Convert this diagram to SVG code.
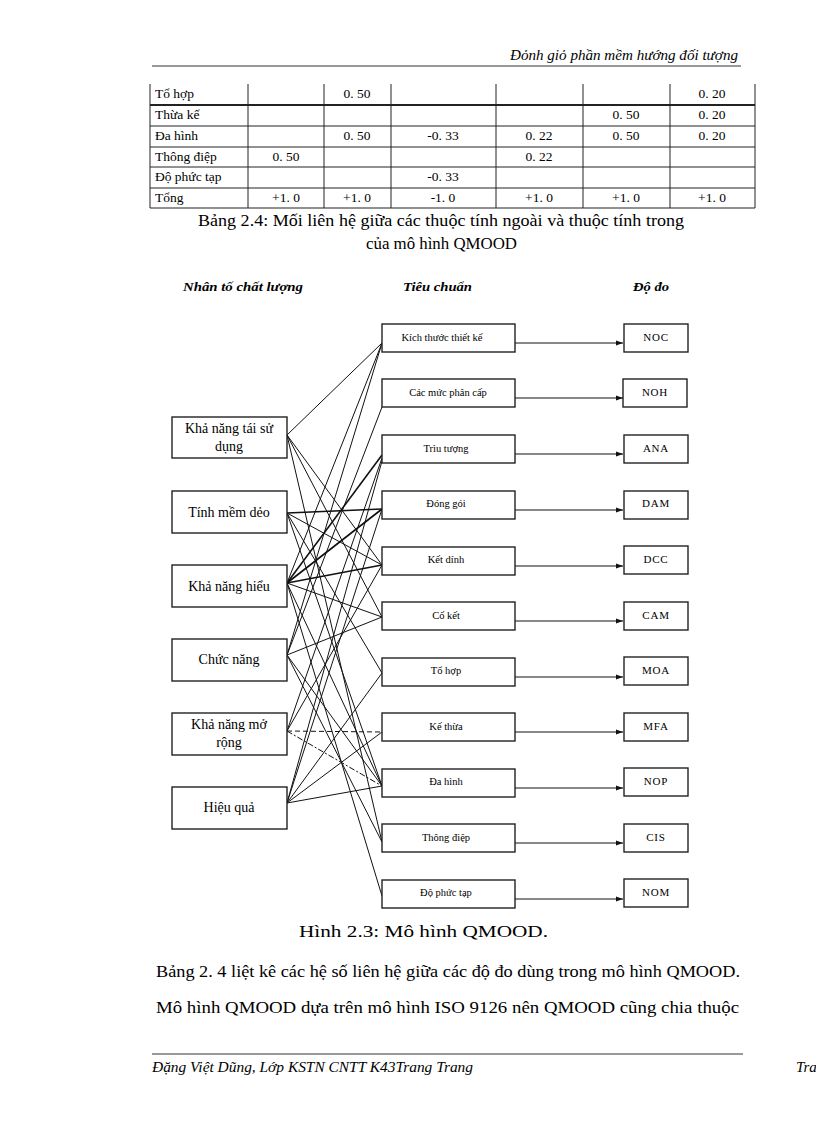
<svg xmlns="http://www.w3.org/2000/svg" width="816" height="1123" viewBox="0 0 816 1123">
<style>
.serif{font-family:"Liberation Serif","Times New Roman",serif;fill:#000}
.tb{font-size:13.5px}
.cap{font-size:17px}
.hd{font-size:13px;font-weight:bold;font-style:italic}
.ln{font-size:14px;text-anchor:middle}
.mn{font-size:10.5px;text-anchor:middle}
.rn{font-size:11px;text-anchor:middle;letter-spacing:0.8px}
.box{fill:#fff;stroke:#222;stroke-width:1.4}
.rule{stroke:#333;stroke-width:1}
.c{stroke:#111;stroke-width:1;fill:none}
.cb{stroke:#111;stroke-width:1.6;fill:none}
.dash{stroke:#111;stroke-width:1;fill:none;stroke-dasharray:5 3}
.dd{stroke:#111;stroke-width:1;fill:none;stroke-dasharray:6 2 2 2}
.arr{stroke:#111;stroke-width:1;fill:none;marker-end:url(#ah)}
</style>
<defs>
<marker id="ah" markerWidth="7" markerHeight="6" refX="7" refY="3" orient="auto" markerUnits="userSpaceOnUse">
<path d="M0,0.5 L7,3 L0,5.5 Z" fill="#111"/>
</marker>
</defs>
<rect width="816" height="1123" fill="#fff"/>

<!-- page header -->
<g id="page-header">
<text class="serif" x="738" y="60" font-size="15" font-style="italic" text-anchor="end" textLength="228" lengthAdjust="spacingAndGlyphs">Đỏnh giỏ phần mềm  hướng đối tượng</text>
<line class="rule" x1="152" y1="66" x2="741" y2="66"/>
</g>

<!-- table -->
<g id="table">
<g stroke="#222" stroke-width="1">
<line x1="150" y1="84" x2="150" y2="208"/>
<line x1="248" y1="84" x2="248" y2="208"/>
<line x1="324" y1="84" x2="324" y2="208"/>
<line x1="391" y1="84" x2="391" y2="208"/>
<line x1="496" y1="84" x2="496" y2="208"/>
<line x1="583" y1="84" x2="583" y2="208"/>
<line x1="670" y1="84" x2="670" y2="208"/>
<line x1="755" y1="84" x2="755" y2="208"/>
<line x1="150" y1="105" x2="755" y2="105" stroke-width="2"/>
<line x1="150" y1="126" x2="755" y2="126"/>
<line x1="150" y1="147" x2="755" y2="147"/>
<line x1="150" y1="167" x2="755" y2="167"/>
<line x1="150" y1="188" x2="755" y2="188"/>
<line x1="150" y1="208" x2="755" y2="208"/>
</g>
<g class="serif tb">
<text x="155" y="98">Tổ hợp</text>
<text x="155" y="119">Thừa kế</text>
<text x="155" y="140">Đa hình</text>
<text x="155" y="161">Thông điệp</text>
<text x="155" y="181">Độ phức tạp</text>
<text x="155" y="202">Tổng</text>
</g>
<g class="serif tb" text-anchor="middle">
<text x="357" y="98">0. 50</text>
<text x="712" y="98">0. 20</text>
<text x="626" y="119">0. 50</text>
<text x="712" y="119">0. 20</text>
<text x="357" y="140">0. 50</text>
<text x="443" y="140">-0. 33</text>
<text x="539" y="140">0. 22</text>
<text x="626" y="140">0. 50</text>
<text x="712" y="140">0. 20</text>
<text x="286" y="161">0. 50</text>
<text x="539" y="161">0. 22</text>
<text x="443" y="181">-0. 33</text>
<text x="286" y="202">+1. 0</text>
<text x="357" y="202">+1. 0</text>
<text x="443" y="202">-1. 0</text>
<text x="539" y="202">+1. 0</text>
<text x="626" y="202">+1. 0</text>
<text x="712" y="202">+1. 0</text>
</g>
</g>

<g id="table-caption" class="serif cap">
<text x="198" y="226" textLength="486" lengthAdjust="spacingAndGlyphs">Bảng 2.4: Mối liên hệ giữa các thuộc tính ngoài và thuộc tính trong</text>
<text x="366" y="249" textLength="151" lengthAdjust="spacingAndGlyphs">của mô hình QMOOD</text>
</g>

<!-- column headers -->
<g id="column-headers" class="serif hd">
<text x="183" y="291" textLength="120" lengthAdjust="spacingAndGlyphs">Nhân tố chất lượng</text>
<text x="403" y="291" textLength="69" lengthAdjust="spacingAndGlyphs">Tiêu chuẩn</text>
<text x="633" y="291" textLength="36" lengthAdjust="spacingAndGlyphs">Độ đo</text>
</g>

<!-- connectors -->
<g id="connectors">
<!-- Reusability -->
<line class="c" x1="287" y1="435" x2="382" y2="343"/>
<line class="c" x1="287" y1="435" x2="382" y2="565"/>
<line class="c" x1="287" y1="435" x2="382" y2="617"/>
<line class="c" x1="287" y1="435" x2="382" y2="842"/>
<!-- Flexibility -->
<line class="cb" x1="287" y1="513" x2="382" y2="509"/>
<line class="c" x1="287" y1="513" x2="382" y2="565"/>
<line class="c" x1="287" y1="513" x2="382" y2="673"/>
<line class="c" x1="287" y1="513" x2="382" y2="786"/>
<!-- Understandability -->
<line class="c" x1="287" y1="583" x2="382" y2="343"/>
<line class="cb" x1="287" y1="583" x2="382" y2="455"/>
<line class="cb" x1="287" y1="583" x2="382" y2="509"/>
<line class="cb" x1="287" y1="583" x2="382" y2="565"/>
<line class="c" x1="287" y1="583" x2="382" y2="617"/>
<line class="c" x1="287" y1="583" x2="382" y2="786"/>
<line class="c" x1="287" y1="583" x2="382" y2="896"/>
<!-- Functionality -->
<line class="c" x1="287" y1="655" x2="382" y2="343"/>
<line class="c" x1="287" y1="655" x2="382" y2="407"/>
<line class="c" x1="287" y1="655" x2="382" y2="617"/>
<line class="c" x1="287" y1="655" x2="382" y2="786"/>
<line class="c" x1="287" y1="655" x2="382" y2="842"/>
<!-- Extendibility -->
<line class="c" x1="287" y1="731" x2="382" y2="458"/>
<line class="c" x1="287" y1="731" x2="382" y2="565"/>
<line class="dash" x1="287" y1="731" x2="382" y2="732"/>
<line class="dd" x1="287" y1="731" x2="382" y2="786"/>
<!-- Effectiveness -->
<line class="c" x1="287" y1="803" x2="382" y2="461"/>
<line class="c" x1="287" y1="803" x2="382" y2="509"/>
<line class="c" x1="287" y1="803" x2="382" y2="673"/>
<line class="c" x1="287" y1="803" x2="382" y2="732"/>
<line class="c" x1="287" y1="803" x2="382" y2="786"/>
<!-- criteria to metrics -->
<line class="arr" x1="515" y1="343" x2="623" y2="343"/>
<line class="arr" x1="515" y1="398" x2="623" y2="398"/>
<line class="arr" x1="515" y1="454" x2="623" y2="454"/>
<line class="arr" x1="515" y1="510" x2="623" y2="510"/>
<line class="arr" x1="515" y1="566" x2="623" y2="566"/>
<line class="arr" x1="515" y1="621" x2="623" y2="621"/>
<line class="arr" x1="515" y1="677" x2="623" y2="677"/>
<line class="arr" x1="515" y1="732" x2="623" y2="732"/>
<line class="arr" x1="515" y1="788" x2="623" y2="788"/>
<line class="arr" x1="515" y1="843" x2="623" y2="843"/>
<line class="arr" x1="515" y1="899" x2="623" y2="899"/>
</g>

<!-- quality factors -->
<g id="n-reuse"><rect class="box" x="172" y="417" width="115" height="41"/><text class="serif ln" x="229" y="433">Khả năng tái sử</text><text class="serif ln" x="229" y="451">dụng</text></g>
<g id="n-flex"><rect class="box" x="172" y="491" width="115" height="42"/><text class="serif ln" x="229" y="517">Tính mềm dẻo</text></g>
<g id="n-under"><rect class="box" x="172" y="565" width="115" height="42"/><text class="serif ln" x="229" y="591">Khả năng hiểu</text></g>
<g id="n-func"><rect class="box" x="172" y="639" width="115" height="42"/><text class="serif ln" x="229" y="664">Chức năng</text></g>
<g id="n-ext"><rect class="box" x="172" y="713" width="115" height="42"/><text class="serif ln" x="229" y="729">Khả năng mở</text><text class="serif ln" x="229" y="747">rộng</text></g>
<g id="n-eff"><rect class="box" x="172" y="787" width="115" height="42"/><text class="serif ln" x="229" y="812">Hiệu quả</text></g>

<!-- criteria -->
<g id="c-size"><rect class="box" x="382" y="324" width="133" height="28"/><text class="serif mn" x="442" y="341">Kích thước thiết kế</text></g>
<g id="c-hier"><rect class="box" x="382" y="379" width="133" height="28"/><text class="serif mn" x="448" y="396">Các mức phân cấp</text></g>
<g id="c-abs"><rect class="box" x="382" y="435" width="133" height="28"/><text class="serif mn" x="446" y="452">Trìu tượng</text></g>
<g id="c-enc"><rect class="box" x="382" y="491" width="133" height="28"/><text class="serif mn" x="446" y="507">Đóng gói</text></g>
<g id="c-coup"><rect class="box" x="382" y="547" width="133" height="28"/><text class="serif mn" x="446" y="563">Kết dính</text></g>
<g id="c-coh"><rect class="box" x="382" y="602" width="133" height="28"/><text class="serif mn" x="446" y="619">Cố kết</text></g>
<g id="c-comp"><rect class="box" x="382" y="658" width="133" height="28"/><text class="serif mn" x="446" y="674">Tổ hợp</text></g>
<g id="c-inh"><rect class="box" x="382" y="713" width="133" height="28"/><text class="serif mn" x="446" y="730">Kế thừa</text></g>
<g id="c-poly"><rect class="box" x="382" y="769" width="133" height="28"/><text class="serif mn" x="446" y="785">Đa hình</text></g>
<g id="c-msg"><rect class="box" x="382" y="824" width="133" height="28"/><text class="serif mn" x="446" y="841">Thông điệp</text></g>
<g id="c-cx"><rect class="box" x="382" y="880" width="133" height="28"/><text class="serif mn" x="446" y="896">Độ phức tạp</text></g>

<!-- metrics -->
<g id="m-noc"><rect class="box" x="624" y="324" width="64" height="28"/><text class="serif rn" x="656" y="341">NOC</text></g>
<g id="m-noh"><rect class="box" x="623" y="379" width="64" height="28"/><text class="serif rn" x="655" y="396">NOH</text></g>
<g id="m-ana"><rect class="box" x="624" y="435" width="64" height="28"/><text class="serif rn" x="656" y="452">ANA</text></g>
<g id="m-dam"><rect class="box" x="624" y="491" width="64" height="28"/><text class="serif rn" x="656" y="507">DAM</text></g>
<g id="m-dcc"><rect class="box" x="624" y="546" width="64" height="28"/><text class="serif rn" x="656" y="563">DCC</text></g>
<g id="m-cam"><rect class="box" x="624" y="602" width="64" height="28"/><text class="serif rn" x="656" y="619">CAM</text></g>
<g id="m-moa"><rect class="box" x="624" y="657" width="64" height="28"/><text class="serif rn" x="656" y="674">MOA</text></g>
<g id="m-mfa"><rect class="box" x="624" y="713" width="64" height="28"/><text class="serif rn" x="656" y="730">MFA</text></g>
<g id="m-nop"><rect class="box" x="624" y="768" width="64" height="28"/><text class="serif rn" x="656" y="785">NOP</text></g>
<g id="m-cis"><rect class="box" x="624" y="824" width="64" height="28"/><text class="serif rn" x="656" y="841">CIS</text></g>
<g id="m-nom"><rect class="box" x="624" y="879" width="64" height="28"/><text class="serif rn" x="656" y="896">NOM</text></g>

<g id="figure-caption" class="serif cap">
<text x="299" y="937" textLength="249" lengthAdjust="spacingAndGlyphs">Hình 2.3: Mô hình  QMOOD.</text>
</g>

<g id="paragraph" class="serif cap">
<text x="156" y="977" textLength="584" lengthAdjust="spacingAndGlyphs">Bảng 2. 4 liệt kê các hệ số liên hệ giữa các độ đo dùng  trong mô hình  QMOOD.</text>
<text x="156" y="1013" textLength="583" lengthAdjust="spacingAndGlyphs">Mô hình  QMOOD  dựa trên mô hình ISO  9126 nên QMOOD  cũng chia thuộc</text>
</g>

<g id="page-footer">
<line class="rule" x1="152" y1="1054" x2="743" y2="1054"/>
<text class="serif" x="152" y="1072" font-size="15" font-style="italic" textLength="321" lengthAdjust="spacingAndGlyphs">Đặng Việt Dũng, Lớp KSTN CNTT K43Trang Trang</text>
<text class="serif" x="796" y="1072" font-size="15" font-style="italic">Trang</text>
</g>
</svg>
